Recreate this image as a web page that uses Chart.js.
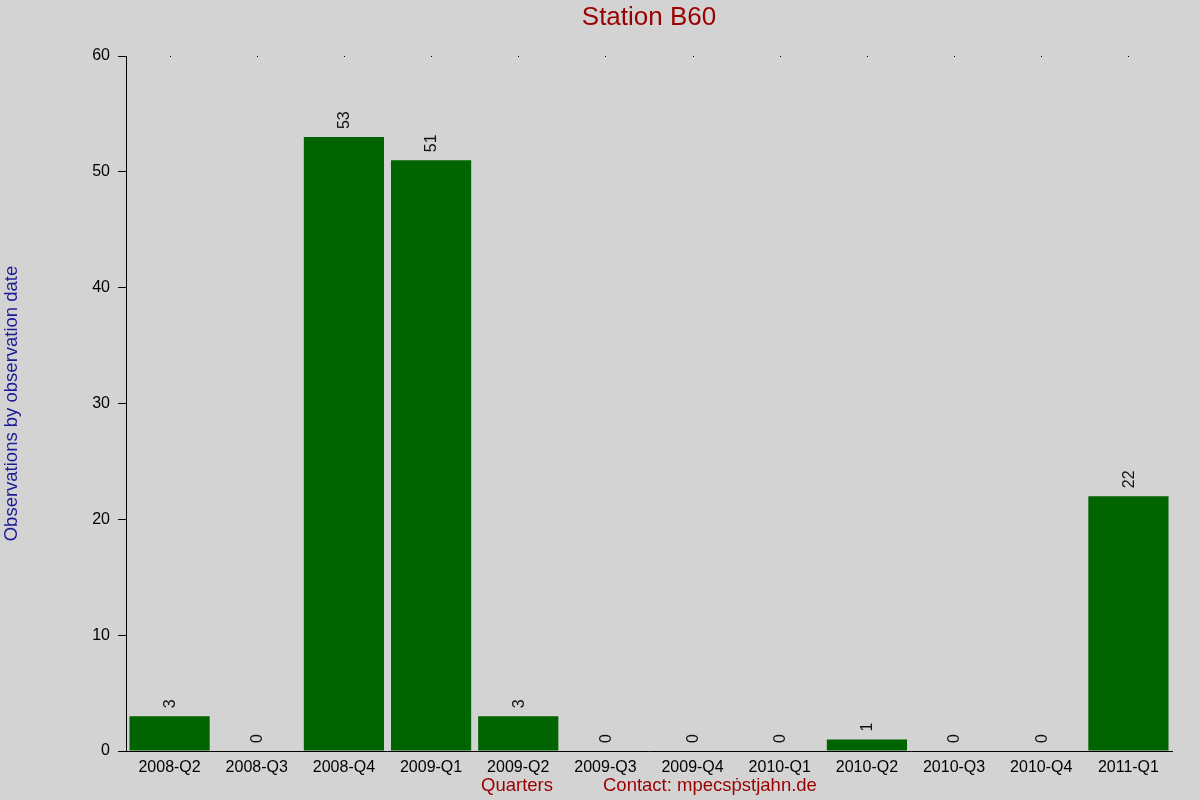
<!DOCTYPE html>
<html>
<head>
<meta charset="utf-8">
<script src="https://cdn.jsdelivr.net/npm/chart.js@4/dist/chart.umd.min.js"></script>
<style>
  html, body { margin: 0; padding: 0; background: #d3d3d3; }
  #wrap { width: 1200px; height: 800px; }
</style>
</head>
<body>
<div id="wrap"><canvas id="chart" width="1200" height="800"></canvas></div>
<script>
const quarters = ['2008-Q2', '2008-Q3', '2008-Q4', '2009-Q1', '2009-Q2', '2009-Q3',
                  '2009-Q4', '2010-Q1', '2010-Q2', '2010-Q3', '2010-Q4', '2011-Q1'];
const observations = [3, 0, 53, 51, 3, 0, 0, 0, 1, 0, 0, 22];

const chartTitle = 'Station B60';
const yTitle = 'Observations by observation date';
const xTitle = 'Quarters';
const contactText = 'Contact: mpecs\u1E57stjahn.de';

const FONT = 'Arial, "Liberation Sans", sans-serif';

// draws title, axis titles, value labels and the little dots on top
const textPlugin = {
    id: 'textPlugin',
    afterDraw(chart) {
        const ctx = chart.ctx;
        const area = chart.chartArea;
        const xs = chart.scales.x;
        const meta = chart.getDatasetMeta(0);

        ctx.save();

        // title
        ctx.fillStyle = '#990000';
        ctx.font = '26px ' + FONT;
        ctx.textAlign = 'center';
        ctx.textBaseline = 'middle';
        ctx.fillText(chartTitle, (area.left + area.right) / 2, 18);

        // y axis title
        ctx.save();
        ctx.translate(12, (area.top + area.bottom) / 2);
        ctx.rotate(-Math.PI / 2);
        ctx.fillStyle = '#1a1a96';
        ctx.font = '18.5px ' + FONT;
        ctx.fillText(yTitle, 0, 0);
        ctx.restore();

        // bottom texts
        ctx.fillStyle = '#990000';
        ctx.font = '18.5px ' + FONT;
        ctx.textAlign = 'left';
        ctx.fillText(xTitle, 481, 786);
        ctx.fillText(contactText, 603, 786);

        // dots at top
        ctx.fillStyle = '#000';
        for (let i = 0; i < quarters.length; i++) {
            const x = xs.getPixelForValue(i);
            ctx.fillRect(Math.round(x), area.top, 1, 1);
        }

        // value labels
        ctx.font = '16px ' + FONT;
        ctx.fillStyle = '#111';
        ctx.textAlign = 'left';
        ctx.textBaseline = 'middle';
        meta.data.forEach((bar, i) => {
            ctx.save();
            ctx.translate(bar.x, bar.y - 8);
            ctx.rotate(-Math.PI / 2);
            ctx.fillText(String(observations[i]), 0, 1);
            ctx.restore();
        });

        ctx.restore();
    }
};

new Chart(document.getElementById('chart'), {
    type: 'bar',
    data: {
        labels: quarters,
        datasets: [{
            data: observations,
            backgroundColor: '#006400',
            borderWidth: 0,
            barPercentage: 0.92,
            categoryPercentage: 1.0
        }]
    },
    options: {
        responsive: false,
        animation: false,
        layout: { padding: { top: 56, right: 28, bottom: 0, left: 0 } },
        plugins: {
            legend: { display: false },
            tooltip: { enabled: false },
            title: { display: false }
        },
        scales: {
            x: {
                grid: { display: false, drawTicks: false },
                border: { display: true, color: '#000', width: 1 },
                ticks: {
                    color: '#000',
                    font: { size: 16, family: FONT },
                    maxRotation: 0,
                    autoSkip: false,
                    padding: 7
                },
                afterFit(scale) { scale.height = 49; }
            },
            y: {
                min: 0,
                max: 60,
                grid: {
                    drawOnChartArea: false,
                    drawTicks: true,
                    tickLength: 8,
                    color: '#000'
                },
                border: { display: true, color: '#000', width: 1 },
                ticks: {
                    stepSize: 10,
                    color: '#000',
                    font: { size: 16, family: FONT },
                    padding: 8
                },
                afterFit(scale) { scale.width = 126; }
            }
        }
    },
    plugins: [textPlugin]
});
</script>
</body>
</html>
